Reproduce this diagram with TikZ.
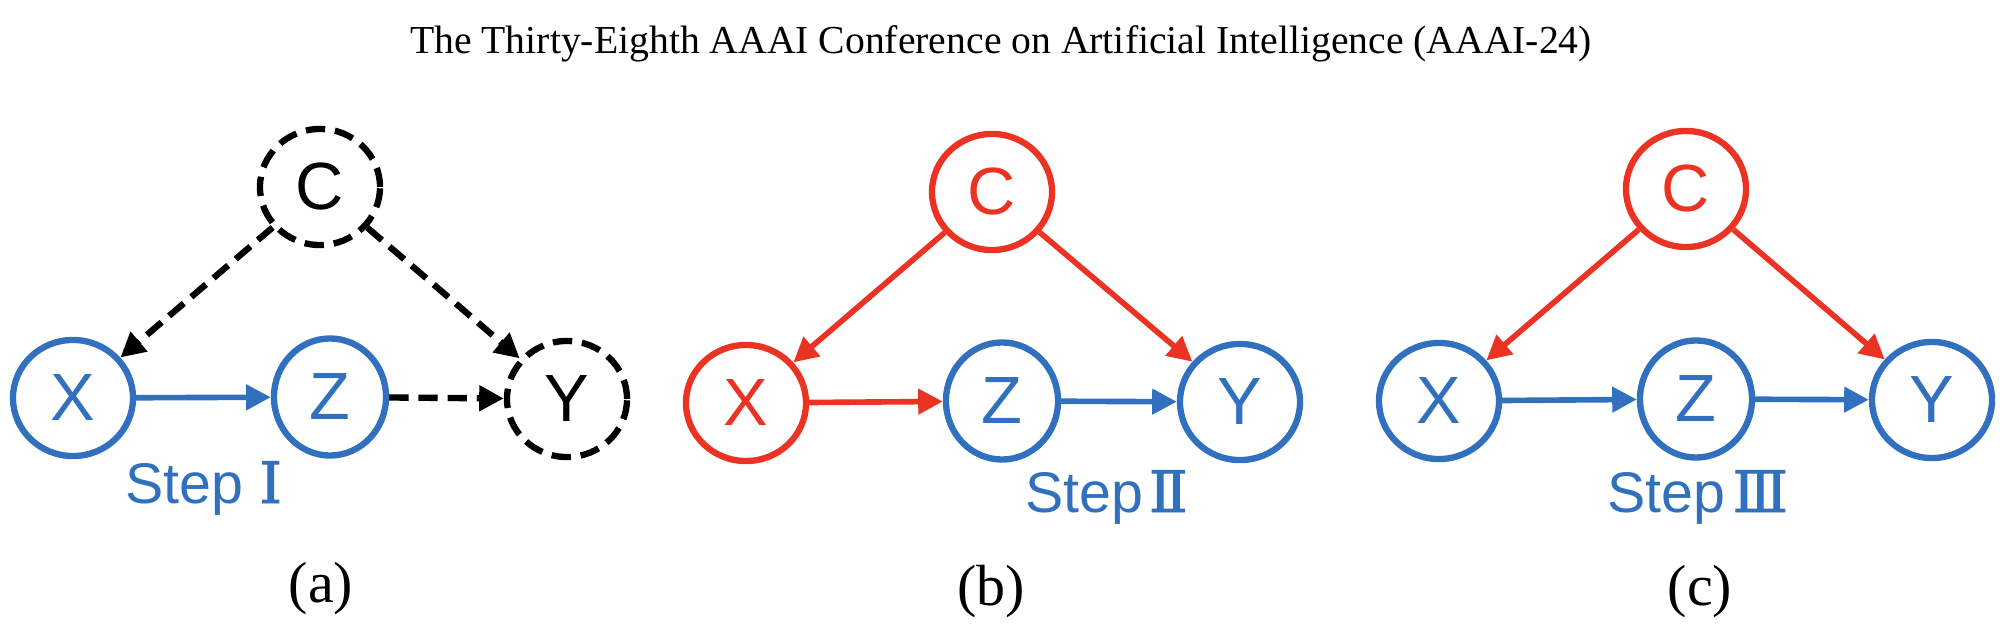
\documentclass[tikz,border=0pt]{standalone}
\usepackage{fontspec}
\setmainfont{Liberation Serif}
\setsansfont{Liberation Sans}
\newfontfamily\numfont[FakeBold=1.6]{DejaVu Serif}
\usetikzlibrary{shapes.geometric,arrows.meta}
\definecolor{myblue}{RGB}{49,112,190}
\definecolor{myred}{RGB}{234,51,35}
\begin{document}
\begin{tikzpicture}[x=0.01cm,y=-0.01cm,
  vnode/.style={ellipse, draw, line width=1.8pt, minimum width=1.2cm, minimum height=1.16cm, inner sep=0pt,
    font=\sffamily\fontsize{19}{19}\selectfont},
  znode/.style={vnode, minimum width=1.12cm, minimum height=1.17cm},
  bluenode/.style={myblue, text=myblue},
  rednode/.style={myred, text=myred},
  dashnode/.style={black, dash pattern=on 5.5pt off 2.8pt},
  arr/.style={-{Triangle[length=7pt,width=7pt]}, line width=1.6pt},
  dasharr/.style={arr, black, line width=1.8pt, dash pattern=on 5.5pt off 2.8pt},
  steplabel/.style={anchor=base west, inner sep=0pt, myblue, font=\sffamily\fontsize{16.3}{16.3}\selectfont},
  sublabel/.style={inner sep=0pt, font=\fontsize{16.5}{16.5}\selectfont},
  titlestyle/.style={inner sep=0pt, anchor=base}
]
\useasboundingbox (0,0) rectangle (2000,634);

\node[titlestyle] (title) at (1001,54) {\resizebox{11.81cm}{!}{The Thirty-Eighth AAAI Conference on Artificial Intelligence (AAAI-24)}};

% ---------- (a)
\node[vnode, dashnode] (aC) at (320,187) {C};
\node[vnode, bluenode] (aX) at (73,398) {X};
\node[znode, bluenode] (aZ) at (330,397) {Z};
\node[vnode, dashnode] (aY) at (567,399) {Y};
\draw[dasharr] (aC) -- (aX);
\draw[dasharr] (aC) -- (aY);
\draw[arr, myblue] (aX) -- (aZ);
\draw[dasharr] (aZ) -- (aY);
\node[steplabel] (aS) at (125,503) {Step\hspace{4.5pt}{\numfont Ⅰ}};
\node[sublabel] (aL) at (321,589) {(a)};

% ---------- (b)
\node[vnode, rednode] (bC) at (992,192) {C};
\node[vnode, rednode] (bX) at (746,403) {X};
\node[znode, bluenode] (bZ) at (1002,401) {Z};
\node[vnode, bluenode] (bY) at (1240,402) {Y};
\draw[arr, myred] (bC) -- (bX);
\draw[arr, myred] (bC) -- (bY);
\draw[arr, myred] (bX) -- (bZ);
\draw[arr, myblue] (bZ) -- (bY);
\node[steplabel] (bS) at (1025,512) {Step\hspace{1.5pt}{\numfont Ⅱ}};
\node[sublabel] (bL) at (991,592) {(b)};

% ---------- (c)
\node[vnode, rednode] (cC) at (1686,189) {C};
\node[vnode, bluenode] (cX) at (1439,401) {X};
\node[znode, bluenode] (cZ) at (1696,399) {Z};
\node[vnode, bluenode] (cY) at (1932,400) {Y};
\draw[arr, myred] (cC) -- (cX);
\draw[arr, myred] (cC) -- (cY);
\draw[arr, myblue] (cX) -- (cZ);
\draw[arr, myblue] (cZ) -- (cY);
\node[steplabel] (cS) at (1607,512) {Step\hspace{2pt}{\numfont Ⅲ}};
\node[sublabel] (cL) at (1700,592) {(c)};
\end{tikzpicture}
\end{document}
